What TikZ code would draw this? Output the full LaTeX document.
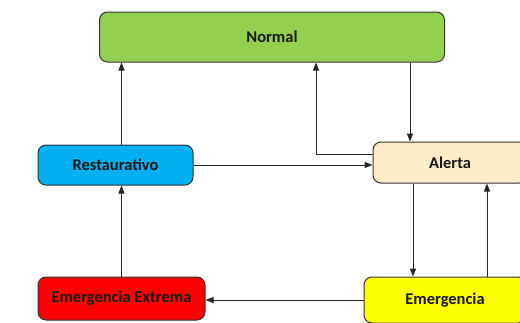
\documentclass[tikz,border=0pt]{standalone}
\usepackage{fontspec}
\setmainfont{Carlito}
\usetikzlibrary{arrows.meta}

\definecolor{cNormal}{RGB}{146,208,80}
\definecolor{cRest}{RGB}{0,176,240}
\definecolor{cAlert}{RGB}{253,238,200}
\definecolor{cExtr}{RGB}{255,0,0}
\definecolor{cEmerg}{RGB}{255,255,0}

\tikzset{
  estado/.style={draw=black!80, line width=1pt, rounded corners=8pt,
    font=\bfseries\fontsize{16.5}{18}\selectfont, text=black!90, inner sep=0pt},
  paso/.style={-{Triangle[length=8pt,width=6pt]}, line width=1pt, draw=black!85}
}

\begin{document}
\begin{tikzpicture}[x=1pt,y=-1pt]
\useasboundingbox (0,0) rectangle (520,322);
\clip (0,0) rectangle (520,322);

\node [estado, fill=cNormal, minimum width=345pt, minimum height=50pt] (norm) at (272,37) {Normal};
\node [estado, fill=cRest, minimum width=155pt, minimum height=40pt] (rest) at (115.5,165) {Restaurativo};
\node [estado, fill=cAlert, minimum width=154pt, minimum height=41pt] (alert) at (450,162.5) {Alerta};
\node [estado, fill=cExtr, minimum width=167pt, minimum height=43pt] (extr) at (121.5,298.5) {Emergencia Extrema};
\node [estado, fill=cEmerg, minimum width=162pt, minimum height=46pt] (emerg) at (445,300) {Emergencia};

\draw [paso] (extr.north) -- (extr.north |- rest.south);
\draw [paso] (extr.north |- rest.north) -- (extr.north |- norm.south);
\draw [paso] (rest.east) -- (rest.east -| alert.west);
\draw [paso] ([yshift=8.5pt]alert.west) -| ([xshift=44pt]norm.south);
\draw [paso] ([xshift=-40pt]alert.north |- norm.south) -- ([xshift=-40pt]alert.north);
\draw [paso] ([xshift=-37pt]alert.south) -- ([xshift=-37pt]alert.south |- emerg.north);
\draw [paso] ([xshift=37pt]alert.south |- emerg.north) -- ([xshift=37pt]alert.south);
\draw [paso] (emerg.west) -- (emerg.west -| extr.east);

\end{tikzpicture}
\end{document}
